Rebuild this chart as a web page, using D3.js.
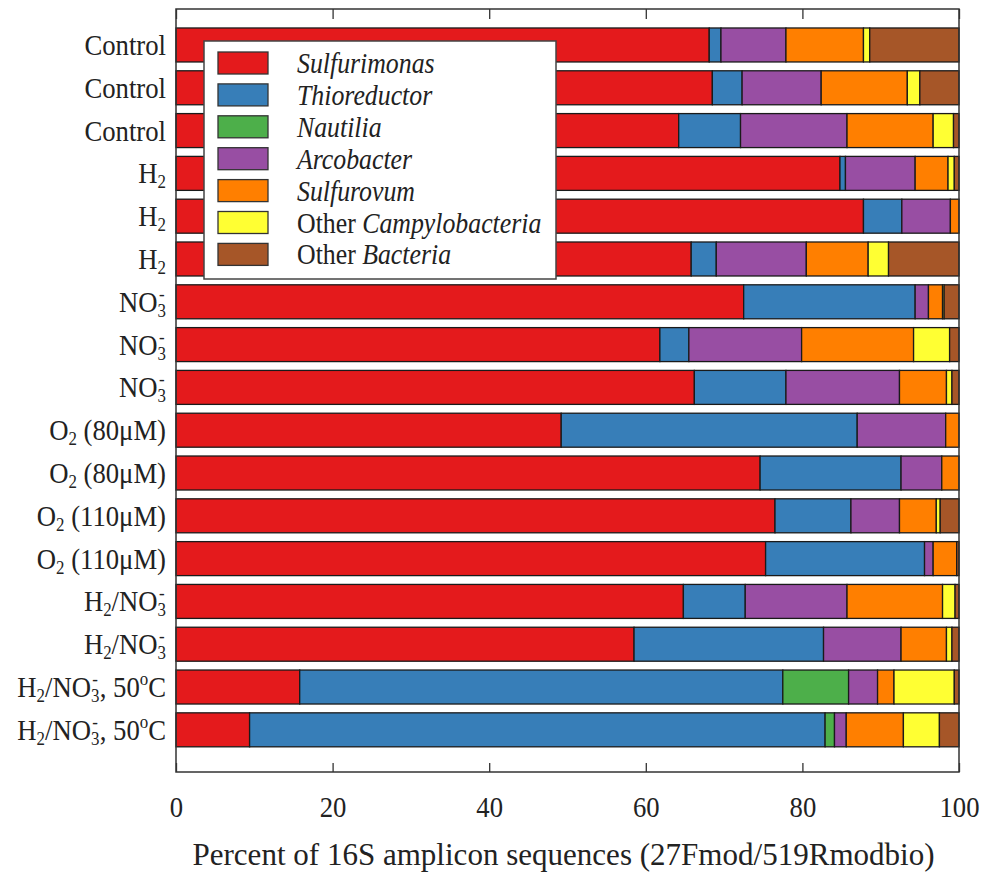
<!DOCTYPE html>
<html>
<head>
<meta charset="utf-8">
<script src="https://cdn.jsdelivr.net/npm/d3@7"></script>
<style>
  html, body { margin: 0; padding: 0; background: #fff; }
  svg { display: block; }
  text { font-family: "Liberation Serif", "Times New Roman", serif; fill: #222; }
</style>
</head>
<body>
<svg id="chart" width="983" height="875"></svg>
<script>
// ---------- data ----------
// category labels: "_x" = subscript char, "^x" = superscript char
const categories = [
  "Control", "Control", "Control",
  "H_2", "H_2", "H_2",
  "NO_3^-", "NO_3^-", "NO_3^-",
  "O_2 (80μM)", "O_2 (80μM)",
  "O_2 (110μM)", "O_2 (110μM)",
  "H_2/NO_3^-", "H_2/NO_3^-",
  "H_2/NO_3^-, 50^oC", "H_2/NO_3^-, 50^oC"
];
const seriesNames = ["Sulfurimonas", "Thioreductor", "Nautilia", "Arcobacter", "Sulfurovum", "Other Campylobacteria", "Other Bacteria"];
const seriesColors = ["#e41a1c", "#377eb8", "#4daf4a", "#984ea3", "#ff7f00", "#ffff33", "#a65628"];

const sulfurimonas = [68.1, 68.5, 64.2, 84.8, 87.8, 65.8, 72.5, 61.8, 66.2, 49.2, 74.6, 76.5, 75.3, 64.8, 58.5, 15.8, 9.4];
const thioreductor = [1.5, 3.8, 7.9, 0.7, 4.9, 3.2, 21.9, 3.7, 11.7, 37.8, 18.0, 9.7, 20.3, 7.9, 24.2, 61.7, 73.5];
const nautilia     = [0, 0, 0, 0, 0, 0, 0, 0, 0, 0, 0, 0, 0, 0, 0, 8.4, 1.2];
const arcobacter   = [8.3, 10.1, 13.6, 8.9, 6.2, 11.5, 1.7, 14.4, 14.5, 11.3, 5.2, 6.2, 1.1, 13.0, 9.9, 3.7, 1.5];
const sulfurovum   = [9.9, 11.0, 11.0, 4.2, 1.1, 7.9, 1.8, 14.3, 6.0, 1.7, 2.2, 4.7, 3.0, 12.2, 5.8, 2.1, 7.3];
const otherCampy   = [0.8, 1.6, 2.6, 0.8, 0, 2.6, 0.2, 4.6, 0.7, 0, 0, 0.5, 0, 1.6, 0.7, 7.7, 4.6];
const otherBact    = [11.4, 5.0, 0.7, 0.6, 0, 9.0, 1.9, 1.2, 0.9, 0, 0, 2.4, 0.3, 0.5, 0.9, 0.6, 2.5];

const xTicks = [0, 20, 40, 60, 80, 100];
const xTitle = "Percent of 16S amplicon sequences (27Fmod/519Rmodbio)";

// ---------- layout ----------
const svg = d3.select("#chart");
const plot = { left: 176, right: 959, top: 9, bottom: 772 };
const SX = 0.89; // horizontal text compression

const seriesArrays = [sulfurimonas, thioreductor, nautilia, arcobacter, sulfurovum, otherCampy, otherBact];
const table = categories.map((c, i) => {
  const row = { idx: i };
  seriesNames.forEach((s, k) => row[s] = seriesArrays[k][i]);
  return row;
});

const x = d3.scaleLinear().domain([0, 100]).range([plot.left, plot.right]);
const y = d3.scaleBand()
  .domain(d3.range(categories.length))
  .range([23.7, 751.1])
  .paddingInner(0.206)
  .paddingOuter(0.1);

const stacked = d3.stack().keys(seriesNames)(table);

// bars
const layers = svg.append("g").selectAll("g")
  .data(stacked).join("g")
  .attr("fill", (d, k) => seriesColors[k]);

layers.selectAll("rect")
  .data(d => d.filter(p => p[1] - p[0] > 0))
  .join("rect")
  .attr("x", p => x(p[0]))
  .attr("width", p => x(p[1]) - x(p[0]))
  .attr("y", p => y(p.data.idx))
  .attr("height", y.bandwidth())
  .attr("stroke", "#1a1a1a")
  .attr("stroke-width", 1.3);

// frame
svg.append("rect")
  .attr("x", plot.left).attr("y", plot.top)
  .attr("width", plot.right - plot.left).attr("height", plot.bottom - plot.top)
  .attr("fill", "none").attr("stroke", "#333").attr("stroke-width", 1.5);

// bottom axis (ticks pointing inward)
const xAxis = svg.append("g")
  .attr("transform", `translate(0,${plot.bottom})`)
  .call(d3.axisBottom(x).tickValues(xTicks).tickSizeInner(-9).tickSizeOuter(0).tickPadding(24));
xAxis.select(".domain").remove();
xAxis.selectAll(".tick line").attr("stroke", "#333").attr("stroke-width", 1.3);
xAxis.selectAll(".tick text")
  .attr("font-size", 30)
  .attr("font-family", '"Liberation Serif", "Times New Roman", serif')
  .attr("fill", "#222")
  .attr("transform", `scale(${SX},1)`);

// top axis ticks (no labels)
const xTop = svg.append("g")
  .attr("transform", `translate(0,${plot.top})`)
  .call(d3.axisTop(x).tickValues(xTicks).tickSizeInner(-10).tickSizeOuter(0).tickFormat(""));
xTop.select(".domain").remove();
xTop.selectAll(".tick line").attr("stroke", "#333").attr("stroke-width", 1.3);

// axis title
svg.append("g")
  .attr("transform", `translate(${(plot.left + plot.right) / 2 - 4},865) scale(0.97,1)`)
  .append("text")
  .attr("text-anchor", "middle")
  .attr("font-size", 32)
  .text(xTitle);

// category labels with sub/superscripts
function parseLabel(s) {
  const parts = [];
  let buf = "";
  for (let i = 0; i < s.length; i++) {
    const ch = s[i];
    if ((ch === "_" || ch === "^") && i + 1 < s.length) {
      if (buf) { parts.push({ t: buf, k: "n" }); buf = ""; }
      parts.push({ t: s[i + 1], k: ch === "_" ? "sub" : "sup" });
      i++;
    } else buf += ch;
  }
  if (buf) parts.push({ t: buf, k: "n" });
  return parts;
}

categories.forEach((c, i) => {
  const g = svg.append("g")
    .attr("transform", `translate(${plot.left - 10},${y(i) + y.bandwidth() / 2 + 10}) scale(${SX},1)`);
  const t = g.append("text").attr("text-anchor", "end").attr("font-size", 30);
  const parts = parseLabel(c);
  let shift = 0; // current baseline shift
  let prev = null;
  parts.forEach((p, j) => {
    const ts = t.append("tspan").text(p.t);
    if (p.k === "sub") {
      ts.attr("font-size", 19).attr("dy", 5 - shift); shift = 5;
    } else if (p.k === "sup") {
      ts.attr("font-size", 19).attr("dy", -12 - shift); shift = -12;
      if (prev && prev.k === "sub") ts.attr("dx", -8); // stack above the subscript
    } else {
      ts.attr("dy", -shift);
      if (prev && prev.k === "sup" && parts[j - 2] && parts[j - 2].k === "sub") ts.attr("dx", 2);
      shift = 0;
    }
    prev = p;
  });
});

// legend
const legend = svg.append("g");
legend.append("rect")
  .attr("x", 204).attr("y", 41).attr("width", 352).attr("height", 238)
  .attr("fill", "#fff").attr("stroke", "#444").attr("stroke-width", 1.5);

seriesNames.forEach((name, k) => {
  const yy = 52 + k * 31.9;
  legend.append("rect")
    .attr("x", 218).attr("y", yy).attr("width", 50).attr("height", 22)
    .attr("fill", seriesColors[k]).attr("stroke", "#333").attr("stroke-width", 1.3);
  const t = legend.append("g")
    .attr("transform", `translate(297,${yy + 21}) scale(${SX},1)`)
    .append("text").attr("font-size", 29);
  if (name.startsWith("Other ")) {
    t.append("tspan").text("Other ");
    t.append("tspan").attr("font-style", "italic").text(name.slice(6));
  } else {
    t.append("tspan").attr("font-style", "italic").text(name);
  }
});
</script>
</body>
</html>
